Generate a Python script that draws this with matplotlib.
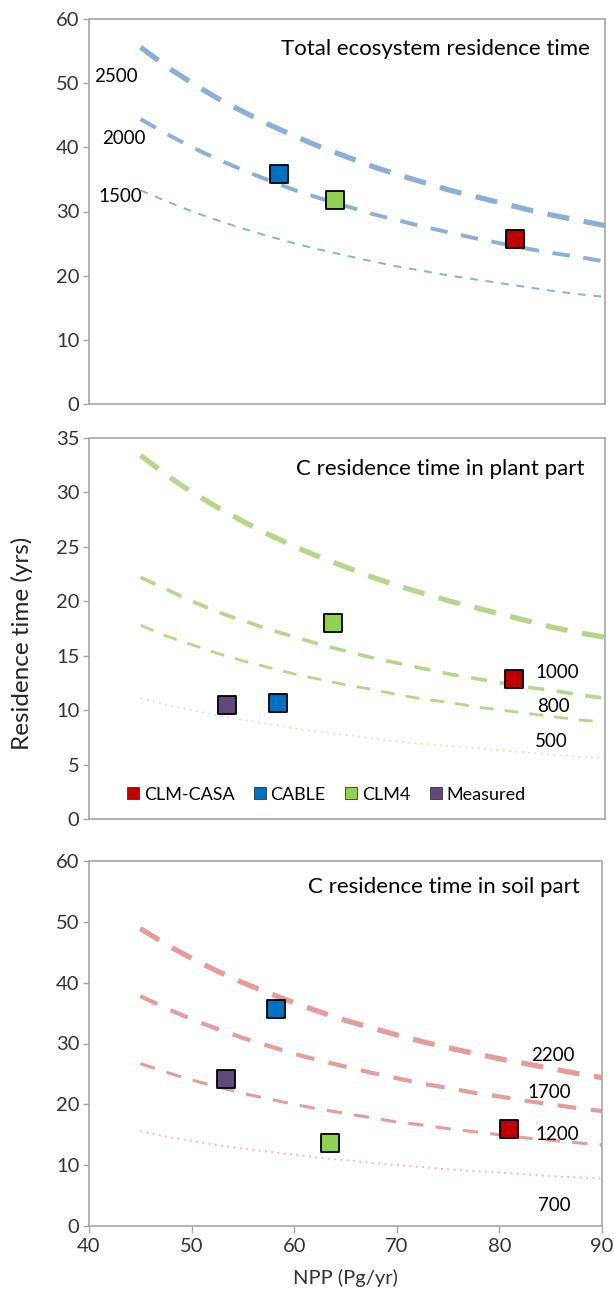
import numpy as np
import matplotlib.pyplot as plt
from matplotlib.patches import Patch

plt.rcParams['font.family'] = ['Lato', 'DejaVu Sans']

# NPP (Pg/yr) donde se leen las curvas
npp = [45, 47.5, 50, 52.5, 55, 57.5, 60, 62.5, 65, 67.5, 70, 72.5, 75, 77.5, 80, 82.5, 85, 87.5, 90]

# Panel 1: tiempo de residencia total (curvas de almacenamiento)
tot_2500 = [55.6, 52.6, 50.0, 47.6, 45.5, 43.5, 41.7, 40.0, 38.5, 37.0, 35.7, 34.5, 33.3, 32.3, 31.3, 30.3, 29.4, 28.6, 27.8]
tot_2000 = [44.4, 42.1, 40.0, 38.1, 36.4, 34.8, 33.3, 32.0, 30.8, 29.6, 28.6, 27.6, 26.7, 25.8, 25.0, 24.2, 23.5, 22.9, 22.2]
tot_1500 = [33.3, 31.6, 30.0, 28.6, 27.3, 26.1, 25.0, 24.0, 23.1, 22.2, 21.4, 20.7, 20.0, 19.4, 18.8, 18.2, 17.6, 17.1, 16.7]

# Panel 2: parte vegetal
pl_1500 = [33.4, 31.6, 30.0, 28.6, 27.3, 26.1, 25.0, 24.0, 23.1, 22.2, 21.4, 20.7, 20.0, 19.4, 18.8, 18.2, 17.6, 17.1, 16.7]
pl_1000 = [22.2, 21.1, 20.0, 19.0, 18.2, 17.4, 16.7, 16.0, 15.4, 14.8, 14.3, 13.8, 13.3, 12.9, 12.5, 12.1, 11.8, 11.4, 11.1]
pl_800 = [17.8, 16.8, 16.0, 15.2, 14.5, 13.9, 13.3, 12.8, 12.3, 11.9, 11.4, 11.0, 10.7, 10.3, 10.0, 9.7, 9.4, 9.1, 8.9]
pl_500 = [11.1, 10.5, 10.0, 9.5, 9.1, 8.7, 8.3, 8.0, 7.7, 7.4, 7.1, 6.9, 6.7, 6.5, 6.3, 6.1, 5.9, 5.7, 5.6]

# Panel 3: parte del suelo
so_2200 = [48.9, 46.3, 44.0, 41.9, 40.0, 38.3, 36.7, 35.2, 33.8, 32.6, 31.4, 30.3, 29.3, 28.4, 27.5, 26.7, 25.9, 25.1, 24.4]
so_1700 = [37.8, 35.8, 34.0, 32.4, 30.9, 29.6, 28.3, 27.2, 26.2, 25.2, 24.3, 23.4, 22.7, 21.9, 21.3, 20.6, 20.0, 19.4, 18.9]
so_1200 = [26.7, 25.3, 24.0, 22.9, 21.8, 20.9, 20.0, 19.2, 18.5, 17.8, 17.1, 16.6, 16.0, 15.5, 15.0, 14.5, 14.1, 13.7, 13.3]
so_700 = [15.6, 14.7, 14.0, 13.3, 12.7, 12.2, 11.7, 11.2, 10.8, 10.4, 10.0, 9.7, 9.3, 9.0, 8.8, 8.5, 8.2, 8.0, 7.8]

# Modelos
modelos = ['CLM-CASA', 'CABLE', 'CLM4', 'Measured']
colores = {'CLM-CASA': '#C00000', 'CABLE': '#0070C0', 'CLM4': '#92D050', 'Measured': '#5F497A'}

tot_pts = {'CABLE': (58.4, 35.8), 'CLM4': (63.8, 31.8), 'CLM-CASA': (81.3, 25.7)}
pl_pts = {'Measured': (53.4, 10.5), 'CABLE': (58.3, 10.7), 'CLM4': (63.6, 18.0), 'CLM-CASA': (81.2, 12.9)}
so_pts = {'Measured': (53.4, 24.1), 'CABLE': (58.2, 35.6), 'CLM4': (63.5, 13.7), 'CLM-CASA': (80.9, 15.9)}

W, H = 614, 1292
fig = plt.figure(figsize=(W / 100, H / 100), dpi=100)

def caja(px_left, px_right, px_top, px_bot):
    return fig.add_axes([px_left / W, 1 - px_bot / H, (px_right - px_left) / W, (px_bot - px_top) / H])

ax1 = caja(89, 605, 19, 404)
ax2 = caja(89, 605, 438, 819)
ax3 = caja(89, 602, 861, 1226)

txt_col = '#333333'
for ax in [ax1, ax2, ax3]:
    ax.set_xlim(40, 90)
    for s in ax.spines.values():
        s.set_color('#A6A6A6')
        s.set_linewidth(1.2)
    ax.tick_params(axis='y', colors='#A6A6A6', labelcolor=txt_col, labelsize=14.5, length=4, width=1, pad=3)
    ax.tick_params(axis='x', colors='#A6A6A6', labelcolor=txt_col, labelsize=14.5, length=5, width=1)
    ax.set_xticks([40, 50, 60, 70, 80, 90])

ax1.tick_params(axis='x', length=0, labelbottom=False)
ax2.tick_params(axis='x', length=0, labelbottom=False)

curva_fs = 13.5

# Panel 1
azul = '#8EAEDA'
ax1.plot(npp, tot_2500, color=azul, lw=3.8, dashes=(4.2, 2.8))
ax1.plot(npp, tot_2000, color=azul, lw=2.8, dashes=(4.5, 3.5))
ax1.plot(npp, tot_1500, color=azul, lw=1.4, dashes=(4, 4))
ax1.set_ylim(0, 60)
ax1.set_yticks(range(0, 61, 10))
for k, (x, y) in tot_pts.items():
    ax1.scatter(x, y, marker='s', s=150, color=colores[k], edgecolor='k', linewidth=1.3, zorder=5)
ax1.text(42.6, 51.1, '2500', fontsize=curva_fs, ha='center', va='center')
ax1.text(43.4, 41.3, '2000', fontsize=curva_fs, ha='center', va='center')
ax1.text(43.0, 32.3, '1500', fontsize=curva_fs, ha='center', va='center')
ax1.text(0.971, 0.922, 'Total ecosystem residence time', transform=ax1.transAxes,
         fontsize=16, ha='right', va='center')

# Panel 2
verde = '#B7D68C'
ax2.plot(npp, pl_1500, color=verde, lw=3.8, dashes=(4.2, 2.8))
ax2.plot(npp, pl_1000, color=verde, lw=2.6, dashes=(4.5, 3.5))
ax2.plot(npp, pl_800, color=verde, lw=2.0, dashes=(5, 4))
ax2.plot(npp, pl_500, color='#D6E8BE', lw=1.3, dashes=(1, 2.5))
ax2.set_ylim(0, 35)
ax2.set_yticks(range(0, 36, 5))
for k, (x, y) in pl_pts.items():
    ax2.scatter(x, y, marker='s', s=150, color=colores[k], edgecolor='k', linewidth=1.3, zorder=5)
ax2.text(85.4, 13.5, '1000', fontsize=curva_fs, ha='center', va='center')
ax2.text(85.0, 10.3, '800', fontsize=curva_fs, ha='center', va='center')
ax2.text(84.8, 7.1, '500', fontsize=curva_fs, ha='center', va='center')
ax2.text(0.961, 0.919, 'C residence time in plant part', transform=ax2.transAxes,
         fontsize=16, ha='right', va='center')
handles = [Patch(facecolor=colores[m], edgecolor='#333333', linewidth=0.6) for m in modelos]
ax2.legend(handles, modelos, loc='lower center', bbox_to_anchor=(0.46, 0.0), ncol=4, frameon=False,
           fontsize=13, handlelength=0.65, handleheight=0.65, handletextpad=0.25, columnspacing=1.1)

# Panel 3
rojo = '#E59C9C'
ax3.plot(npp, so_2200, color=rojo, lw=3.8, dashes=(4.2, 2.8))
ax3.plot(npp, so_1700, color=rojo, lw=3.0, dashes=(4.5, 3.5))
ax3.plot(npp, so_1200, color=rojo, lw=2.2, dashes=(5, 4))
ax3.plot(npp, so_700, color='#EDB5B5', lw=1.3, dashes=(1, 2.5))
ax3.set_ylim(0, 60)
ax3.set_yticks(range(0, 61, 10))
for k, (x, y) in so_pts.items():
    ax3.scatter(x, y, marker='s', s=150, color=colores[k], edgecolor='k', linewidth=1.3, zorder=5)
ax3.text(85.2, 28.0, '2200', fontsize=curva_fs, ha='center', va='center')
ax3.text(84.9, 22.0, '1700', fontsize=curva_fs, ha='center', va='center')
ax3.text(85.6, 15.1, '1200', fontsize=curva_fs, ha='center', va='center')
ax3.text(85.4, 3.4, '700', fontsize=curva_fs, ha='center', va='center')
ax3.text(0.956, 0.929, 'C residence time in soil part', transform=ax3.transAxes,
         fontsize=16, ha='right', va='center')
ax3.set_xlabel('NPP (Pg/yr)', fontsize=14.5, color=txt_col, labelpad=10)

fig.text(22 / W, 1 - 643 / H, 'Residence time (yrs)', rotation=90, fontsize=17.5,
         ha='center', va='center', color='#262626')

fig.savefig('out.png', dpi=100)
